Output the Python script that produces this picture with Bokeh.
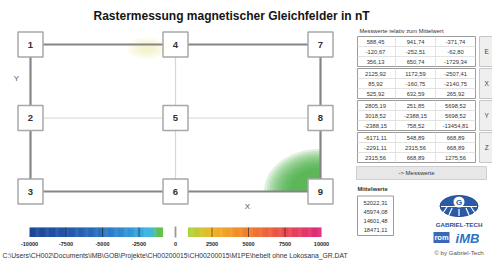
import numpy as np
from bokeh.plotting import figure
from bokeh.models import Range1d
from bokeh.core.properties import value
from bokeh.embed import file_html
from bokeh.resources import INLINE

# ---------------- data ----------------
TITLE = "Rastermessung magnetischer Gleichfelder in nT"
point_labels = ["1", "2", "3", "4", "5", "6", "7", "8", "9"]
point_col = [0, 0, 0, 1, 1, 1, 2, 2, 2]
point_row = [0, 1, 2, 0, 1, 2, 0, 1, 2]

# outer frame path and inner lines of the measurement grid (grid indices)
outer_cols = [0, 1, 2, 2, 2, 1, 0, 0, 0]
outer_rows = [0, 0, 0, 1, 2, 2, 2, 1, 0]
inner_xs = [[0, 1, 2], [1, 1, 1]]
inner_ys = [[1, 1, 1], [0, 1, 2]]

# colour scale (nT)
cb_ticks = [-10000, -7500, -5000, -2500, 0, 2500, 5000, 7500, 10000]
cb_tick_labels = ["-10000", "-7500", "-5000", "-2500", "0", "2500", "5000", "7500", "10000"]
cb_neg_stops = [-10000, -7500, -5000, -2500, -1700, -1250, -850]
cb_neg_colors = ["#1d4896", "#2356aa", "#2a72c4", "#36a4dc", "#3fbbe6", "#5abf5c", "#6ac243"]
cb_pos_stops = [850, 2500, 5000, 7500, 10000]
cb_pos_colors = ["#a8d63e", "#f0b626", "#f07e2a", "#ea4a4e", "#e0287e"]

table_header = "Messwerte relativ zum Mittelwert"
components = ["E", "X", "Y", "Z"]
values_E = [[588.45, 941.74, -371.74], [-120.67, -252.51, -62.80], [356.13, 650.74, -1729.34]]
values_X = [[2125.92, 1172.59, -2507.41], [85.92, -160.75, -2140.75], [525.92, 632.59, 265.92]]
values_Y = [[2805.19, 251.85, 5698.52], [3018.52, -2388.15, 5698.52], [-2388.15, 758.52, -13454.81]]
values_Z = [[-6171.11, 548.89, 668.89], [-2291.11, 2315.56, 668.89], [2315.56, 668.89, 1275.56]]
means_label = "Mittelwerte"
means = [52022.31, 45974.08, 14601.48, 18471.11]
button_label = "-> Messwerte"
path_text = r"C:\Users\CH002\Documents\iMB\GOB\Projekte\CH00200015\CH00200015\M1PE\hebelt ohne Lokosana_GR.DAT"


def de(v):
    return f"{v:.2f}".replace(".", ",")


# ---------------- figure (page pixel coordinates) ----------------
W, H = 492, 260
X0, Y0 = 0, 0
p = figure(width=W, height=H, x_range=Range1d(X0, X0 + W), y_range=Range1d(Y0 + H, Y0),
           output_backend="svg", toolbar_location=None, min_border=0,
           x_axis_location=None, y_axis_location=None)
p.grid.visible = False
p.outline_line_color = None
p.background_fill_color = "white"

FONT = value("Liberation Sans")

# grid scale: column -> px, row -> px
GX0, GDX = 30.0, 145.0
GY0, GDY = 44.0, 73.5
# colour bar scale: nT -> px
CB0, CBK = 175.0, 146.0 / 10000.0
# table scales
TX0, TDX = 375.0, 40.0
TY0, TRP, TGP = 41.0, 10.0, 32.0
MY0, MRP = 202.0, 9.0

p.extra_x_ranges = {
    "gx": Range1d((X0 - GX0) / GDX, (X0 + W - GX0) / GDX),
    "cb": Range1d((X0 - CB0) / CBK, (X0 + W - CB0) / CBK),
    "tx": Range1d((X0 - TX0) / TDX, (X0 + W - TX0) / TDX),
}
p.extra_y_ranges = {
    "gy": Range1d((Y0 + H - GY0) / GDY, (Y0 - GY0) / GDY),
    "ty": Range1d((Y0 + H - TY0) / TRP, (Y0 - TY0) / TRP),
    "my": Range1d((Y0 + H - MY0) / MRP, (Y0 - MY0) / MRP),
}
G = dict(x_range_name="gx", y_range_name="gy")
T = dict(x_range_name="tx", y_range_name="ty")

# ---------------- title ----------------
p.text(x=[231], y=[15.5], text=[TITLE], text_font=FONT, text_font_size="12px",
       text_font_style="bold", text_color="#151515", text_align="center", text_baseline="middle")

# ---------------- field colouring ----------------
t = np.linspace(0, np.pi / 2, 40)
for k in range(10):
    s = 1.0 - 0.05 * k
    rx, ry = 0.39 * s, 0.58 * s
    xs = np.concatenate([[2.0], 2.0 - rx * np.cos(t)])
    ys = np.concatenate([[2.0], 2.0 - ry * np.sin(t)])
    p.patch(xs, ys, fill_color="#3fae3a", fill_alpha=0.17, line_color=None, **G)
for k in range(6):
    s = 1.0 - 0.13 * k
    p.ellipse(x=[0.8], y=[0.05], width=40 * s, height=22 * s, width_units="screen",
              height_units="screen", fill_color="#eeeaa0", fill_alpha=0.11, line_color=None, **G)

# ---------------- grid lines ----------------
p.multi_line(xs=inner_xs, ys=inner_ys, line_color="#d6d6d6", line_width=1.2, **G)
p.line(outer_cols, outer_rows, line_color="#858585", line_width=2.2, **G)

# ---------------- measurement boxes ----------------
p.scatter(x=point_col, y=point_row, marker="square", size=25, fill_color="white",
          line_color="#a8a8a8", line_width=1.5, **G)
p.text(x=point_col, y=point_row, text=point_labels, text_font=FONT, text_font_size="9.5px",
       text_font_style="bold", text_color="#333333", text_align="center",
       text_baseline="middle", **G)

p.text(x=[16], y=[78], text=["Y"], text_font=FONT, text_font_size="8px",
       text_color="#555555", text_align="center", text_baseline="middle")
p.text(x=[247], y=[206], text=["X"], text_font=FONT, text_font_size="8px",
       text_color="#555555", text_align="center", text_baseline="middle")

# ---------------- colour bar ----------------
def gradient(stops, colors, n):
    rgb = np.array([[int(c[i:i + 2], 16) for i in (1, 3, 5)] for c in colors], float)
    edges = np.linspace(stops[0], stops[-1], n + 1)
    mids = 0.5 * (edges[:-1] + edges[1:])
    cols = []
    for m in mids:
        r, g, b = (np.interp(m, stops, rgb[:, j]) for j in range(3))
        cols.append("#%02x%02x%02x" % (int(r), int(g), int(b)))
    step = edges[1] - edges[0]
    return edges[:-1], edges[:-1] + step * 1.4, cols


for stops, colors in ((cb_neg_stops, cb_neg_colors), (cb_pos_stops, cb_pos_colors)):
    l, r, c = gradient(stops, colors, 120)
    r[-1] = stops[-1]
    p.quad(left=l, right=r, top=227, bottom=236.5, fill_color=c, line_color=None, x_range_name="cb")

inner_ticks = [v for v in cb_ticks if v not in (0, cb_ticks[0], cb_ticks[-1])]
p.segment(x0=inner_ticks, x1=inner_ticks, y0=227, y1=236.5, line_color="#202020",
          line_alpha=0.6, line_width=1, x_range_name="cb")
p.segment(x0=[0], x1=[0], y0=226, y1=237, line_color="#9a9a9a", line_width=1.8, x_range_name="cb")
p.text(x=cb_ticks, y=243.5, text=cb_tick_labels, text_font=FONT, text_font_size="5.5px",
       text_font_style="bold", text_color="#222222", text_align="center",
       text_baseline="middle", x_range_name="cb")

# path
p.text(x=[2], y=[254.5], text=[path_text], text_font=FONT, text_font_size="6.8px",
       text_color="#333333", text_align="left", text_baseline="middle")

# ---------------- table ----------------
p.text(x=[359], y=[30], text=[table_header], text_font=FONT, text_font_size="5.8px",
       text_color="#333333", text_align="left", text_baseline="middle")

groups = [values_E, values_X, values_Y, values_Z]
gstep = TGP / TRP
tx_list, ty_list, tt_list = [], [], []
for g, vals in enumerate(groups):
    base = g * gstep
    top, bot = base - 0.5, base + 2.5
    p.quad(left=-0.45, right=2.5, top=top, bottom=bot, fill_color="white",
           line_color="#9c9c9c", line_width=1, **T)
    p.segment(x0=[-0.45, -0.45], x1=[2.5, 2.5], y0=[base + 0.5, base + 1.5], y1=[base + 0.5, base + 1.5],
              line_color="#dcdcdc", line_width=0.8, **T)
    p.segment(x0=[0.5, 1.5], x1=[0.5, 1.5], y0=[top] * 2, y1=[bot] * 2,
              line_color="#dcdcdc", line_width=0.8, **T)
    p.quad(left=2.6, right=3.6, top=top, bottom=bot, fill_color="#efefef",
           line_color="#c6c6c6", line_width=1, **T)
    for r, row in enumerate(vals):
        for j, v in enumerate(row):
            tx_list.append(j)
            ty_list.append(base + r)
            tt_list.append(de(v))
p.text(x=tx_list, y=ty_list, text=tt_list, text_font=FONT, text_font_size="5.8px",
       text_color="#333333", text_align="center", text_baseline="middle", **T)
p.text(x=[2.78] * 4, y=[g * gstep + 1 for g in range(4)], text=components, text_font=FONT,
       text_font_size="6.5px", text_color="#444444", text_align="center", text_baseline="middle", **T)

# Messwerte button
p.quad(left=356, right=486, top=166, bottom=179, fill_color="#e7e7e7", line_color="#cfcfcf")
p.text(x=[416], y=[172.5], text=[button_label], text_font=FONT, text_font_size="6px",
       text_color="#333333", text_align="center", text_baseline="middle")

# Mittelwerte
p.text(x=[357], y=[188.5], text=[means_label], text_font=FONT, text_font_size="5.8px",
       text_font_style="bold", text_color="#333333", text_align="left", text_baseline="middle")
p.quad(left=357, right=393, top=195.5, bottom=235, fill_color="white", line_color="#9c9c9c")
p.text(x=[375] * 4, y=list(range(len(means))), text=[de(v) for v in means], text_font=FONT,
       text_font_size="5.8px", text_color="#333333", text_align="center", text_baseline="middle",
       y_range_name="my")

# ---------------- logo ----------------
LX, LY = 458.5, 205.5
p.ellipse(x=[LX], y=[LY], width=38, height=21, fill_color="#2b5aa6", line_color="#1f4a90")
p.segment(x0=[LX - 12, LX - 7, LX, LX + 7, LX + 12], x1=[LX - 16, LX - 10, LX, LX + 10, LX + 16],
          y0=[LY + 1, LY + 2, LY + 3, LY + 2, LY + 1], y1=[LY + 7, LY + 9, LY + 10, LY + 9, LY + 7],
          line_color="white", line_width=1.2)
p.segment(x0=[LX - 18], x1=[LX + 18], y0=[LY + 0.5], y1=[LY + 0.5], line_color="white", line_width=1)
p.circle(x=[LX], y=[LY - 4], radius=5.5, fill_color="white", line_color=None)
p.text(x=[LX], y=[LY - 3.7], text=["G"], text_font=FONT, text_font_size="8px", text_font_style="bold",
       text_color="#2b5aa6", text_align="center", text_baseline="middle")
p.text(x=[LX], y=[224], text=["GABRIEL-TECH"], text_font=FONT, text_font_size="6.2px",
       text_font_style="bold", text_color="#2b4f9a", text_align="center", text_baseline="middle")
p.quad(left=433, right=449, top=231.5, bottom=242.5, fill_color="#3a68b8", line_color=None)
p.text(x=[441], y=[237], text=["rom"], text_font=FONT, text_font_size="7.5px",
       text_font_style="bold", text_color="white", text_align="center", text_baseline="middle")
p.text(x=[467], y=[237.5], text=["iMB"], text_font=FONT, text_font_size="13px",
       text_font_style="bold italic", text_color="#2f72c4", text_align="center", text_baseline="middle")
p.text(x=[LX], y=[251.5], text=["\u00a9 by Gabriel-Tech"], text_font=FONT, text_font_size="6.2px",
       text_color="#555555", text_align="center", text_baseline="middle")

open("out.html", "w").write(file_html(p, INLINE))
